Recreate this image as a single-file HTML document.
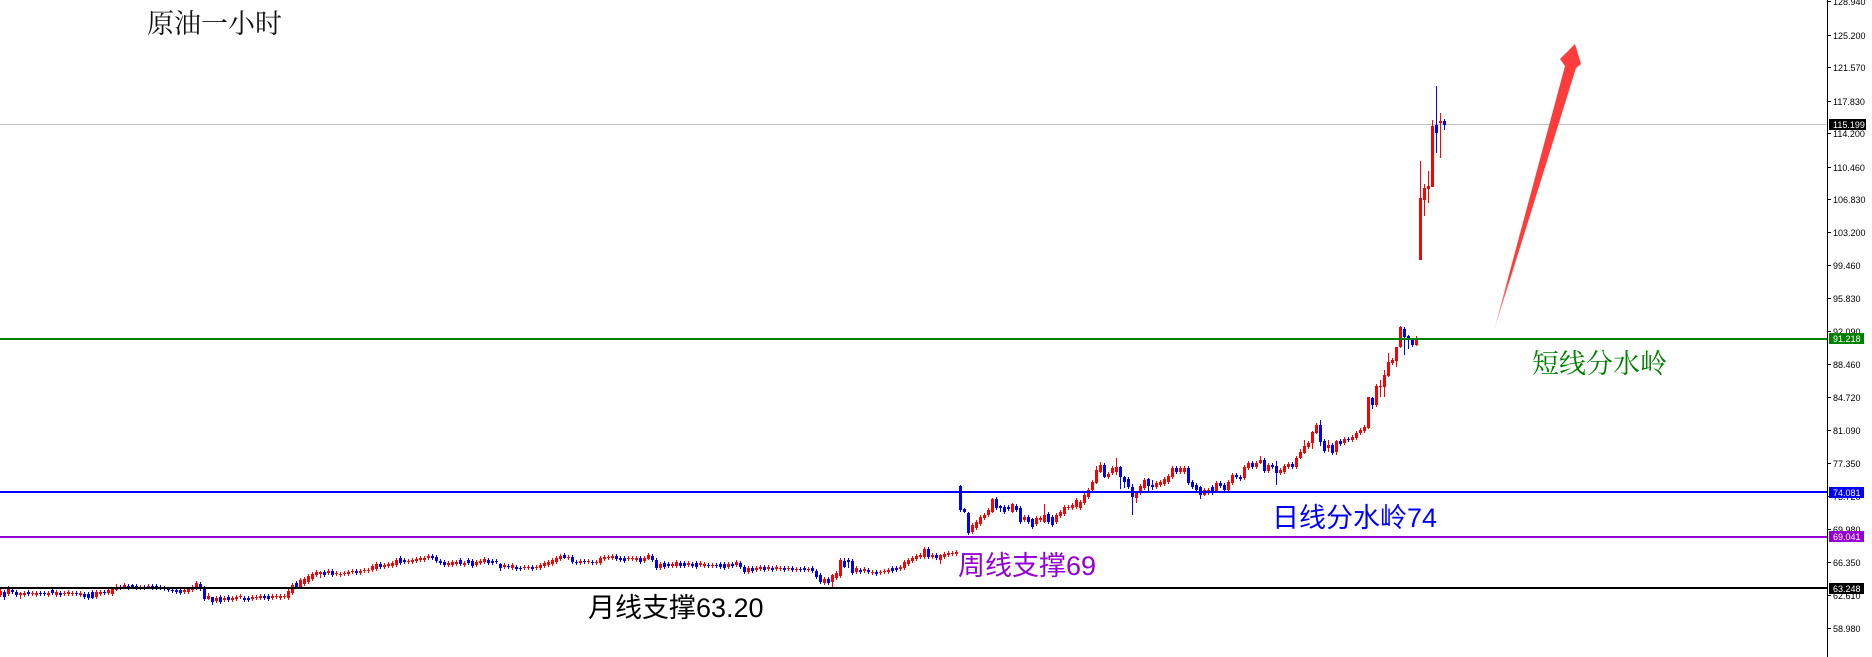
<!DOCTYPE html>
<html><head><meta charset="utf-8"><style>
html,body{margin:0;padding:0;background:#fff;}
svg{display:block;}
.ax{font-family:"Liberation Sans",sans-serif;font-size:9px;fill:#000;}
.bx{font-family:"Liberation Sans",sans-serif;font-size:9px;fill:#fff;}
.cs{font-family:"Liberation Sans","Noto Sans CJK SC",sans-serif;font-size:27px;}
.cr{font-family:"Liberation Serif","Noto Serif CJK SC",serif;font-size:27px;}
</style></head><body>
<svg width="1872" height="657" viewBox="0 0 1872 657" xmlns="http://www.w3.org/2000/svg">
<defs>
<linearGradient id="ag" gradientUnits="userSpaceOnUse" x1="1493" y1="334" x2="1575" y2="46">
<stop offset="0" stop-color="#ff3c3c" stop-opacity="0"/>
<stop offset="0.08" stop-color="#ff3c3c" stop-opacity="0.6"/>
<stop offset="0.2" stop-color="#ff3c3c" stop-opacity="1"/>
<stop offset="1" stop-color="#ff3c3c" stop-opacity="1"/>
</linearGradient>
</defs>
<rect width="1872" height="657" fill="#fff"/>

<!-- current price line -->
<line x1="0" y1="124.5" x2="1827" y2="124.5" stroke="#c0c0c0" stroke-width="1"/>

<g transform="translate(0.5,0)" shape-rendering="crispEdges" fill="none">
<!-- red wicks -->
<path stroke="#ff0000" stroke-width="1" d="M0 589V597M8 586V596M20 592V599M24 591V597M32 591V596M36 591V597M48 591V597M56 590V597M64 591V596M68 590V596M72 591V596M80 591V597M96 590V599M100 590V596M108 588V595M112 587V596M116 584V591M124 583V589M140 585V590M148 584V589M184 588V594M188 587V594M192 585V592M196 581V590M208 593V600M216 596V603M224 596V602M232 596V602M236 595V601M240 594V599M252 595V601M256 595V600M260 594V600M272 594V600M276 594V599M280 594V600M284 594V599M288 589V600M292 583V595M300 578V589M304 577V586M308 574V584M312 572V581M316 570V577M320 571V578M328 569V575M336 571V576M340 572V577M344 571V576M348 570V576M352 569V574M360 569V575M364 568V573M368 568V573M372 564V572M376 562V571M384 563V569M388 562V568M392 561V568M396 558V567M408 559V564M412 558V564M416 557V563M420 556V562M424 556V562M428 554V560M448 561V567M452 560V567M456 560V566M464 561V567M476 560V567M480 559V565M484 557V564M504 563V569M512 563V570M524 565V570M528 565V570M536 565V570M540 563V570M544 561V568M548 560V567M552 558V566M556 556V564M560 554V561M568 555V560M580 559V565M588 559V564M596 560V565M600 556V565M604 555V561M608 555V560M612 554V560M628 556V561M632 556V561M636 556V562M644 556V563M648 553V560M660 562V570M672 562V568M676 560V568M688 561V567M700 561V567M704 562V568M712 563V568M728 562V569M736 560V567M748 566V574M756 566V572M760 565V571M768 565V571M776 565V571M780 566V571M788 566V571M796 567V572M808 567V572M824 577V585M832 574V587M836 571V580M840 558V578M856 566V574M864 567V573M872 570V575M880 570V575M884 569V574M888 568V574M900 565V571M904 560V570M908 558V566M912 556V563M916 554V561M920 553V559M924 547V559M932 553V559M940 554V564M944 552V559M948 551V557M952 551V556M956 550V556
M972 523V534M976 520V530M980 515V526M984 513V520M988 508V517M992 498V513M1012 503V513M1024 515V522M1036 516V526M1040 516V522M1044 504V523M1056 513V524M1060 510V518M1064 505V516M1068 505V510M1072 503V510M1076 498V509M1080 500V510M1084 493V505M1088 488V499M1092 480V492M1096 466V484M1100 462V473M1108 472V479M1112 466V475M1116 458V475M1136 491V503M1140 484V495M1144 478V490M1156 481V489M1160 480V487M1164 477V486M1168 474V484M1172 466V479M1180 466V474M1184 466V474M1204 488V496M1208 488V495M1216 481V493M1228 480V492M1232 473V485M1244 465V480M1248 461V470M1256 461V469M1260 456V464M1268 463V473M1280 468V475M1284 464V474M1288 462V469M1296 456V469M1300 449V459M1304 440V454M1308 441V449M1312 431V449M1316 423V434M1328 440V452M1336 440V455M1344 437V445M1352 435V442M1356 431V440M1360 428V435M1364 425V433M1368 397V429M1376 384V407M1380 380V397M1384 370V397M1388 353V377M1392 358V365M1396 347V367M1400 326V348M1416 336V346M1420 161V260M1424 184V216M1428 171V203M1432 120V187M1440 113V158"/>
<!-- red bodies -->
<path stroke="#ff0000" stroke-width="3" d="M0 591V595M8 588V594M20 593V595M24 593V595M32 593V594M36 593V595M48 593V595M56 592V595M64 593V594M68 592V594M72 593V594M80 593V595M96 592V597M100 592V594M108 590V593M112 589V594M116 588V590M124 585V587M140 587V588M148 586V587M184 590V592M188 589V592M192 587V590M196 583V589M208 596V599M216 598V601M224 598V600M232 598V600M236 597V599M240 596V597M252 597V599M256 597V598M260 596V598M272 596V598M276 596V597M280 596V598M284 596V597M288 591V598M292 585V593M300 580V587M304 579V584M308 576V582M312 574V579M316 572V575M320 572V574M328 571V573M336 573V574M340 574V575M344 573V574M348 572V574M352 571V572M360 571V573M364 570V571M368 570V571M372 566V570M376 564V569M384 565V567M388 564V566M392 563V566M396 560V565M408 561V562M412 560V562M416 559V561M420 558V560M424 558V560M428 556V558M448 563V565M452 562V565M456 562V564M464 563V565M476 562V565M480 561V563M484 559V562M504 565V567M512 565V568M524 567V568M528 567V568M536 567V568M540 565V568M544 563V566M548 562V565M552 560V564M556 558V562M560 556V559M568 557V558M580 561V563M588 561V562M596 562V563M600 558V563M604 557V559M608 557V558M612 556V558M628 558V559M632 558V559M636 558V560M644 558V561M648 555V559M660 564V568M672 564V566M676 562V566M688 563V565M700 563V565M704 564V566M712 565V566M728 564V567M736 562V565M748 568V572M756 568V570M760 567V569M768 567V569M776 567V569M780 568V569M788 568V569M796 569V570M808 569V570M824 579V583M832 575V582M836 573V578M840 560V576M856 568V572M864 569V571M872 572V573M880 572V573M884 571V572M888 570V572M900 567V569M904 562V568M908 560V564M912 558V561M916 556V559M920 555V557M924 549V557M932 555V557M940 555V560M944 554V557M948 553V555M952 553V554M956 552V554
M972 525V532M976 522V528M980 517V524M984 515V518M988 510V515M992 499V512M1012 504V512M1024 517V520M1036 518V524M1040 518V520M1044 515V522M1056 515V522M1060 512V516M1064 507V514M1068 507V508M1072 505V508M1076 500V507M1080 502V508M1084 495V503M1088 490V497M1092 482V490M1096 470V483M1100 465V472M1108 474V477M1112 468V473M1116 467V472M1136 493V498M1140 486V493M1144 480V488M1156 483V487M1160 482V485M1164 479V484M1168 476V482M1172 468V477M1180 468V472M1184 468V472M1204 490V495M1208 490V493M1216 483V491M1228 482V490M1232 475V483M1244 467V478M1248 463V468M1256 463V467M1260 460V463M1268 465V471M1280 470V473M1284 466V472M1288 464V467M1296 458V467M1300 452V458M1304 446V453M1308 443V447M1312 432V443M1316 425V433M1328 445V448M1336 441V452M1344 439V443M1352 437V440M1356 433V438M1360 430V433M1364 427V431M1368 397V428M1376 386V405M1380 386V387M1384 375V387M1388 362V376M1392 360V363M1396 347V361M1400 327V347M1416 340V345M1420 198V260M1424 188V200M1428 186V189M1432 126V187M1440 121V123"/>
<!-- blue wicks -->
<path stroke="#0000ff" stroke-width="1" d="M4 590V600M12 588V594M16 590V597M28 590V596M40 591V596M44 591V596M52 588V595M60 591V597M76 591V596M84 592V599M88 592V600M92 590V599M104 590V595M120 585V590M128 584V590M132 584V588M136 584V590M144 585V590M152 584V590M156 584V590M160 585V590M164 586V591M168 587V592M172 588V593M176 588V594M180 588V595M200 582V591M204 586V601M212 597V605M220 595V604M228 595V602M244 596V602M248 596V602M264 594V600M268 594V601M296 581V589M324 570V577M332 569V577M356 569V575M380 562V569M400 556V565M404 558V564M432 554V560M436 555V563M440 559V565M444 560V567M460 558V566M468 558V565M472 559V568M488 558V565M492 559V565M496 559V564M500 563V571M508 564V569M516 565V571M520 566V571M532 565V571M564 553V559M572 555V564M576 560V565M584 559V564M592 560V565M616 554V561M620 556V562M624 556V563M640 556V564M652 554V562M656 558V570M664 561V569M668 562V568M680 561V568M684 561V568M692 562V568M696 561V569M708 563V568M716 563V568M720 562V569M724 562V570M732 562V568M740 561V569M744 565V574M752 566V573M764 565V572M772 566V572M784 566V572M792 566V572M800 567V572M804 566V572M812 566V573M816 569V579M820 573V584M828 577V585M844 558V568M848 558V568M852 559V575M860 568V574M868 568V574M876 570V576M892 566V573M896 566V572M928 547V559M936 553V560
M960 485V512M964 508V513M968 512V535M996 497V510M1000 505V512M1004 505V514M1008 505V511M1016 504V512M1020 506V524M1028 515V524M1032 518V529M1048 512V524M1052 515V527M1104 463V478M1120 466V489M1124 476V488M1128 477V489M1132 484V515M1148 478V492M1152 480V490M1176 466V474M1188 466V485M1192 480V489M1196 483V492M1200 486V499M1212 485V495M1220 481V488M1224 483V492M1236 473V479M1240 475V481M1252 461V469M1264 458V473M1272 463V469M1276 461V485M1292 462V469M1320 420V446M1324 439V453M1332 443V455M1340 439V446M1348 437V442M1372 397V409M1404 327V355M1408 335V349M1412 340V347M1436 86V153M1444 119V130"/>
<!-- blue bodies -->
<path stroke="#0000ff" stroke-width="3" d="M4 592V597M12 590V592M16 592V595M28 592V594M40 593V594M44 593V594M52 590V593M60 593V595M76 593V594M84 594V597M88 594V598M92 592V598M104 592V593M120 587V588M128 586V588M132 585V587M136 586V588M144 587V588M152 586V588M156 586V588M160 587V588M164 588V589M168 589V590M172 590V591M176 590V592M180 590V593M200 584V589M204 587V599M212 597V602M220 597V602M228 597V600M244 598V600M248 598V600M264 596V598M268 596V599M296 583V587M324 572V575M332 571V575M356 571V573M380 564V567M400 558V563M404 560V562M432 556V558M436 557V561M440 561V563M444 562V565M460 560V564M468 560V563M472 561V566M488 560V563M492 561V563M496 561V562M500 564V568M508 566V567M516 567V569M520 568V569M532 567V569M564 555V558M572 557V562M576 562V563M584 561V562M592 562V563M616 556V559M620 558V560M624 558V561M640 558V562M652 556V560M656 560V568M664 563V567M668 564V566M680 563V566M684 563V566M692 564V566M696 563V567M708 565V566M716 565V566M720 564V567M724 564V568M732 564V566M740 563V567M744 567V572M752 568V571M764 567V570M772 568V570M784 568V570M792 568V570M800 569V570M804 568V570M812 568V571M816 571V577M820 575V582M828 579V583M844 561V567M848 560V562M852 561V573M860 570V572M868 570V572M876 572V574M892 568V571M896 568V570M928 549V557M936 555V558
M960 486V510M964 509V512M968 513V533M996 499V508M1000 506V508M1004 507V512M1008 507V509M1016 506V510M1020 508V522M1028 517V522M1032 519V527M1048 514V522M1052 517V525M1104 465V477M1120 467V477M1124 477V482M1128 479V487M1132 487V497M1148 479V486M1152 485V487M1176 468V472M1188 468V483M1192 482V487M1196 485V490M1200 487V495M1212 487V493M1220 483V486M1224 485V490M1236 475V477M1240 477V479M1252 463V467M1264 460V471M1272 465V467M1276 466V473M1292 464V467M1320 425V442M1324 441V451M1332 445V453M1340 441V444M1348 439V440M1372 398V405M1404 329V337M1408 336V338M1412 340V345M1436 125V133M1444 121V125"/>
</g>

<!-- horizontal level lines -->
<rect x="0" y="338" width="1827" height="2" fill="#008000"/>
<rect x="0" y="491" width="1827" height="2" fill="#0000ff"/>
<rect x="0" y="536" width="1827" height="2" fill="#9400d3"/>
<rect x="0" y="587" width="1827" height="2" fill="#000000"/>

<!-- arrow -->
<polygon points="1493,334 1565,66 1560,59 1575,44 1581,64 1576,68" fill="url(#ag)"/>

<!-- annotations -->
<text x="147" y="33" class="cr" fill="#111">原油一小时</text>
<text x="1532" y="373" class="cr" fill="#008000">短线分水岭</text>
<text x="1272" y="527" class="cs" fill="#0000ff">日线分水岭74</text>
<text x="958" y="575" class="cs" fill="#9400d3">周线支撑69</text>
<text x="588" y="617" class="cs" fill="#000">月线支撑63.20</text>

<!-- axis -->
<rect x="1827" y="0" width="1" height="657" fill="#000"/>
<g fill="#000" shape-rendering="crispEdges">
<rect x="1827" y="1" width="4" height="1"/>
<rect x="1827" y="35" width="4" height="1"/>
<rect x="1827" y="67" width="4" height="1"/>
<rect x="1827" y="101" width="4" height="1"/>
<rect x="1827" y="133" width="4" height="1"/>
<rect x="1827" y="167" width="4" height="1"/>
<rect x="1827" y="199" width="4" height="1"/>
<rect x="1827" y="232" width="4" height="1"/>
<rect x="1827" y="265" width="4" height="1"/>
<rect x="1827" y="298" width="4" height="1"/>
<rect x="1827" y="331" width="4" height="1"/>
<rect x="1827" y="364" width="4" height="1"/>
<rect x="1827" y="397" width="4" height="1"/>
<rect x="1827" y="430" width="4" height="1"/>
<rect x="1827" y="463" width="4" height="1"/>
<rect x="1827" y="496" width="4" height="1"/>
<rect x="1827" y="529" width="4" height="1"/>
<rect x="1827" y="562" width="4" height="1"/>
<rect x="1827" y="595" width="4" height="1"/>
<rect x="1827" y="628" width="4" height="1"/>
</g>
<g class="ax">
<text x="1833" y="5">128.940</text>
<text x="1833" y="39">125.200</text>
<text x="1833" y="71">121.570</text>
<text x="1833" y="105">117.830</text>
<text x="1833" y="137">114.200</text>
<text x="1833" y="171">110.460</text>
<text x="1833" y="203">106.830</text>
<text x="1833" y="236">103.200</text>
<text x="1833" y="269">99.460</text>
<text x="1833" y="302">95.830</text>
<text x="1833" y="335">92.090</text>
<text x="1833" y="368">88.460</text>
<text x="1833" y="401">84.720</text>
<text x="1833" y="434">81.090</text>
<text x="1833" y="467">77.350</text>
<text x="1833" y="500">73.720</text>
<text x="1833" y="533">69.980</text>
<text x="1833" y="566">66.350</text>
<text x="1833" y="599">62.610</text>
<text x="1833" y="632">58.980</text>
</g>

<!-- price label boxes -->
<rect x="1829" y="119" width="37" height="11" fill="#000"/>
<text x="1833" y="128" class="bx">115.199</text>
<rect x="1829" y="333" width="35" height="11" fill="#008000"/>
<text x="1833" y="342" class="bx">91.218</text>
<rect x="1829" y="487" width="35" height="11" fill="#0000ff"/>
<text x="1833" y="496" class="bx">74.081</text>
<rect x="1829" y="531" width="35" height="11" fill="#9400d3"/>
<text x="1833" y="540" class="bx">69.041</text>
<rect x="1829" y="583" width="35" height="11" fill="#000"/>
<text x="1833" y="592" class="bx">63.248</text>
</svg>
</body></html>
